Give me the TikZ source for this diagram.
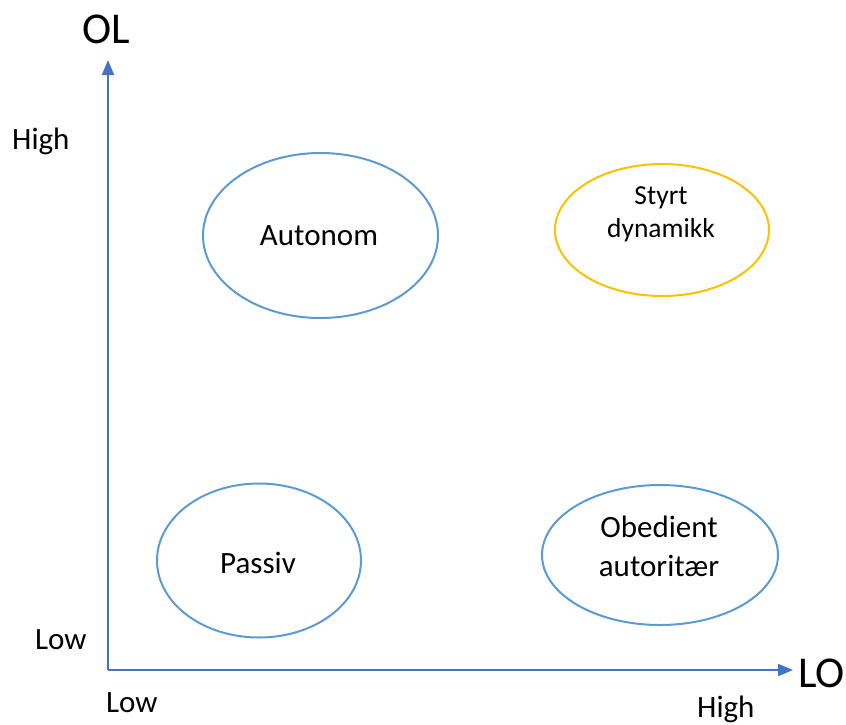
\documentclass[tikz,border=0pt]{standalone}
\usepackage{fontspec}
\setmainfont{Carlito}
\usetikzlibrary{arrows.meta,shapes.geometric}
\definecolor{axisblue}{HTML}{4472C4}
\definecolor{ringblue}{HTML}{5B9BD5}
\definecolor{ringgold}{HTML}{FFC000}
\tikzset{
  px/.style={x=1pt,y=-1pt},
  axis/.style={draw=axisblue,line width=2pt,-{Triangle[length=15pt,width=12pt]}},
  ring/.style={ellipse,draw=ringblue,line width=2pt,inner sep=0pt},
  goldring/.style={ring,draw=ringgold},
  tick/.style={font=\fontsize{31}{37}\selectfont,anchor=base west,inner sep=0pt},
  axlabel/.style={font=\fontsize{44}{50}\selectfont,anchor=base west,inner sep=0pt},
  inlabel/.style={font=\fontsize{31}{39}\selectfont,align=center,inner sep=0pt},
  smalllabel/.style={font=\fontsize{27.5}{33}\selectfont,align=center,inner sep=0pt}
}
\begin{document}
\begin{tikzpicture}[px]
\useasboundingbox (0,0) rectangle (846,724);
% axes
\coordinate (origin) at (108,670);
\coordinate (ytip) at (108,60);
\coordinate (xtip) at (793,670);
\draw[axis] (origin) -- (ytip);
\draw[axis] (origin) -- (xtip);
% axis names and level labels
\node[axlabel] (ol) at (82,43) {OL};
\node[axlabel] (lo) at (798,687) {LO};
\node[tick] (yhigh) at (12,149) {High};
\node[tick] (ylow) at (35,649) {Low};
\node[tick] (xlow) at (106,712) {Low};
\node[tick] (xhigh) at (697,717) {High};
% quadrants
\node[ring,minimum width=235pt,minimum height=165pt] (autonom) at (320.5,235.5) {};
\node[inlabel] (autonomtxt) at (319,236) {Autonom};
\node[goldring,minimum width=214pt,minimum height=132pt] (styrt) at (662,230) {};
\node[smalllabel] (styrttxt) at (661,214) {Styrt\\dynamikk};
\node[ring,minimum width=204pt,minimum height=154pt] (passiv) at (259,560.5) {};
\node[inlabel] (passivtxt) at (258,563) {Passiv};
\node[ring,minimum width=236pt,minimum height=140pt] (obedient) at (660,555) {};
\node[inlabel] (obedienttxt) at (659,546) {Obedient\\autoritær};
\end{tikzpicture}
\end{document}
